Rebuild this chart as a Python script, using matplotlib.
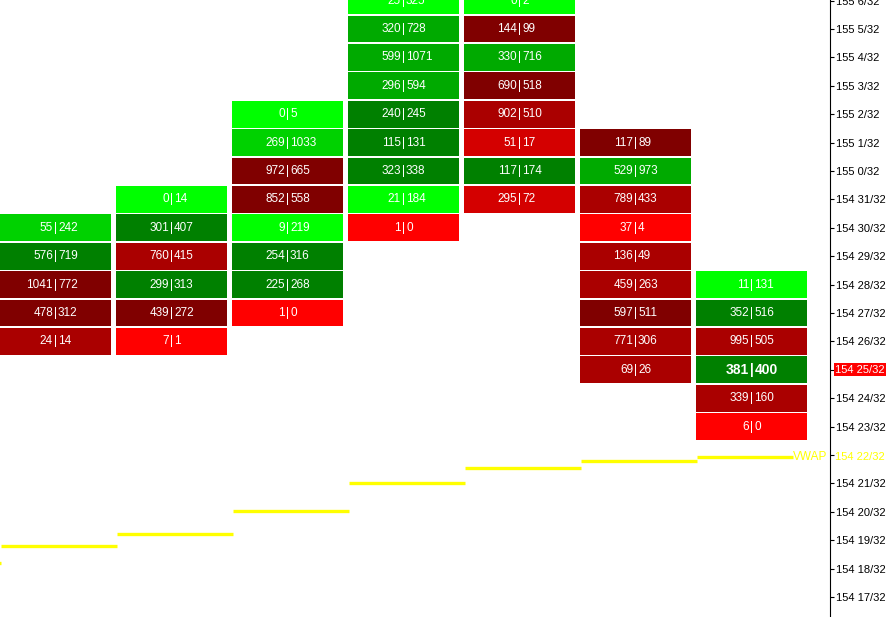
import matplotlib
matplotlib.use("Agg")
import matplotlib.pyplot as plt
from matplotlib.patches import Rectangle

# price in 32nds above 154 (e.g. 25 -> 154 25/32, 33 -> 155 1/32)
# each bar: top price, then bid|ask pairs going down, and a shade level
# shade: +4 bright green ... +1 dark green, -1 dark red ... -4 bright red
bar_top = [30, 31, 34, 38, 38, 33, 28]
bar_bid = [
    [55, 576, 1041, 478, 24],
    [0, 301, 760, 299, 439, 7],
    [0, 269, 972, 852, 9, 254, 225, 1],
    [25, 320, 599, 296, 240, 115, 323, 21, 1],
    [0, 144, 330, 690, 902, 51, 117, 295],
    [117, 529, 789, 37, 136, 459, 597, 771, 69],
    [11, 352, 995, 381, 339, 6],
]
bar_ask = [
    [242, 719, 772, 312, 14],
    [14, 407, 415, 313, 272, 1],
    [5, 1033, 665, 558, 219, 316, 268, 0],
    [325, 728, 1071, 594, 245, 131, 338, 184, 0],
    [2, 99, 716, 518, 510, 17, 174, 72],
    [89, 973, 433, 4, 49, 263, 511, 306, 26],
    [131, 516, 505, 400, 160, 0],
]
bar_shade = [
    [3, 1, -1, -1, -2],
    [4, 1, -2, 1, -1, -4],
    [4, 3, -1, -1, 4, 1, 1, -4],
    [4, 2, 2, 2, 1, 1, 1, 4, -4],
    [4, -1, 2, -1, -2, -3, 1, -3],
    [-1, 2, -2, -4, -2, -2, -1, -2, -2],
    [4, 1, -2, 1, -2, -4],
]
# vwap per bar (first value belongs to the bar before the visible ones)
vwap = [18.20, 18.80, 19.22, 20.03, 21.01, 21.54, 21.79, 21.93]
last_price = 25
vwap_price = 22

tick_prices = list(range(17, 39))

shade_colors = {
    4: "#00ff00", 3: "#00d200", 2: "#00aa00", 1: "#008000",
    -1: "#800000", -2: "#aa0000", -3: "#d40000", -4: "#ff0000",
}


def price_label(p):
    return f"{154 + p // 32} {p % 32}/32"


fig = plt.figure(figsize=(8.88, 6.17), dpi=100)
ax = fig.add_axes([0, 0, 830 / 888, 1])
px = 1 / 116  # one pixel in column units

ax.set_xlim(-55.5 * px, (830 - 55.5) * px)
ax.set_ylim(17 - 20 / 28.4, 17 + 597 / 28.4)

font = "Liberation Sans"
cell_w = 111 * px
cell_h = 0.94

for i in range(len(bar_top)):
    for j, (b, a) in enumerate(zip(bar_bid[i], bar_ask[i])):
        p = bar_top[i] - j
        ax.add_patch(Rectangle((i - cell_w / 2, p - cell_h / 2), cell_w, cell_h,
                               facecolor=shade_colors[bar_shade[i][j]], edgecolor="none"))
        if i == len(bar_top) - 1 and p == last_price:
            kw = dict(fontsize=10, fontweight="bold")
            gap = 3 * px
        else:
            kw = dict(fontsize=8.5)
            gap = 2.5 * px
        ax.text(i - gap, p, str(b), ha="right", va="center", color="white", family=font, **kw)
        ax.text(i, p, "|", ha="center", va="center", color="white", family=font, **kw)
        ax.text(i + gap, p, str(a), ha="left", va="center", color="white", family=font, **kw)

# vwap steps
for k, v in enumerate(vwap):
    i = k - 1
    x0 = i - 0.47
    x1 = i + 0.53 if k < len(vwap) - 1 else (793 - 55.5) * px
    ax.plot([x0, x1], [v, v], color="#ffff00", lw=2.4, solid_capstyle="butt")
ax.text((827 - 55.5) * px, vwap[-1], "VWAP", ha="right", va="center",
        color="#ffff00", fontsize=8.5, family=font)

# right price axis
for s in ["top", "left", "bottom"]:
    ax.spines[s].set_visible(False)
ax.spines["right"].set_color("black")
ax.set_xticks([])
ax.yaxis.tick_right()
ax.set_yticks(tick_prices)
labels = []
for p in tick_prices:
    labels.append("" if p in (last_price, vwap_price) else price_label(p))
ax.set_yticklabels(labels, fontsize=8, family=font)
ax.tick_params(axis="y", length=3, pad=1.5, colors="black")

ax.annotate(price_label(last_price), xy=(1, last_price), xycoords=("axes fraction", "data"),
            xytext=(3.6, 0), textcoords="offset points", ha="left", va="center",
            color="white", fontsize=8, family=font,
            bbox=dict(boxstyle="square,pad=0.12", facecolor="#ff0000", edgecolor="none"))
ax.annotate(price_label(vwap_price), xy=(1, vwap[-1]), xycoords=("axes fraction", "data"),
            xytext=(3.6, 0), textcoords="offset points", ha="left", va="center",
            color="#ffff00", fontsize=8, family=font)

fig.savefig("out.png", dpi=100)
